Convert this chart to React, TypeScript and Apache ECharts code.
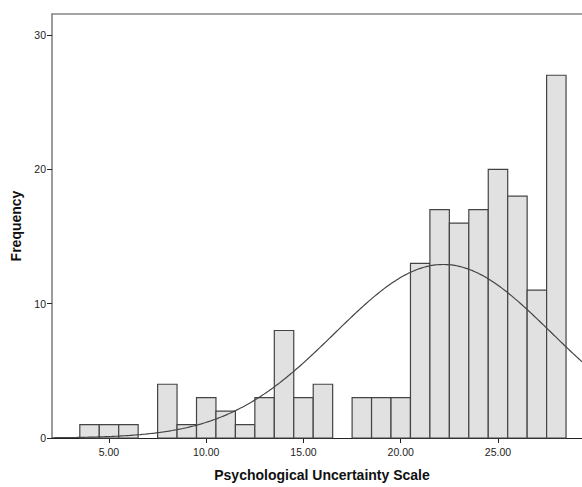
import React, { useEffect, useRef } from "react";
import * as echarts from "echarts";

// Histogram bins (centre of each 1-unit bin) and frequencies
const binCenters = [4, 5, 6, 8, 9, 10, 11, 12, 13, 14, 15, 16, 18, 19, 20, 21, 22, 23, 24, 25, 26, 27, 28];
const frequencies = [1, 1, 1, 4, 1, 3, 2, 1, 3, 8, 3, 4, 3, 3, 3, 13, 17, 16, 17, 20, 18, 11, 27];
const xTickValues = [5, 10, 15, 20, 25];
const yTickValues = [0, 10, 20, 30];

// Fitted normal curve parameters
const NORMAL_MEAN = 22.19;
const NORMAL_SD = 5.56;
const N_TOTAL = 180;
const BIN_WIDTH = 1;

const X_MIN = 2.07;
const X_MAX = 29.32;
const Y_MAX = 31.56;

const FONT = "Liberation Sans, Arial, sans-serif";

export default function App() {
  const ref = useRef<HTMLDivElement>(null);

  useEffect(() => {
    if (!ref.current) return;
    const chart = echarts.init(ref.current, null, { renderer: "svg" });

    const curve: number[][] = [];
    for (let i = 0; i <= 300; i++) {
      const x = X_MIN + ((X_MAX - X_MIN) * i) / 300;
      const z = (x - NORMAL_MEAN) / NORMAL_SD;
      const y = (N_TOTAL * BIN_WIDTH) / (NORMAL_SD * Math.sqrt(2 * Math.PI)) * Math.exp(-0.5 * z * z);
      curve.push([x, y]);
    }

    const barData = binCenters.map((c, i) => [c, frequencies[i]]);

    chart.setOption({
      animation: false,
      backgroundColor: "#ffffff",
      grid: {
        left: 52,
        top: 14,
        right: 0,
        bottom: 47.5,
        show: false,
      },
      xAxis: [
        {
          type: "value",
          min: X_MIN,
          max: X_MAX,
          name: "Psychological Uncertainty Scale",
          nameLocation: "middle",
          nameGap: 30,
          nameTextStyle: { fontFamily: FONT, fontWeight: "bold", fontSize: 14, color: "#111", padding: [0, 0, 0, 10] },
          splitLine: { show: false },
          axisLine: { lineStyle: { color: "#222", width: 1 } },
          axisTick: { show: true, length: 5, customValues: xTickValues, lineStyle: { color: "#222" } },
          axisLabel: {
            customValues: xTickValues,
            formatter: (v: number) => v.toFixed(2),
            margin: 8,
            fontFamily: FONT,
            fontSize: 10.5,
            color: "#222",
          },
        },
        {
          type: "value",
          position: "top",
          min: X_MIN,
          max: X_MAX,
          splitLine: { show: false },
          axisLine: { show: true, lineStyle: { color: "#868686", width: 1.5 } },
          axisTick: { show: false },
          axisLabel: { show: false },
        },
      ],
      yAxis: {
        type: "value",
        min: 0,
        max: Y_MAX,
        name: "Frequency",
        nameLocation: "middle",
        nameGap: 27,
        nameTextStyle: { fontFamily: FONT, fontWeight: "bold", fontSize: 14, color: "#111" },
        splitLine: { show: false },
        axisLine: { show: true, lineStyle: { color: "#7a7a7a", width: 1.5 } },
        axisTick: { show: true, length: 5, customValues: yTickValues, lineStyle: { color: "#222" } },
        axisLabel: {
          customValues: yTickValues,
          margin: 6,
          fontFamily: FONT,
          fontSize: 10.5,
          color: "#222",
        },
      },
      series: [
        {
          type: "custom",
          xAxisIndex: 0,
          data: barData,
          encode: { x: 0, y: 1 },
          renderItem: (params: any, api: any) => {
            const c = api.value(0);
            const v = api.value(1);
            const p0 = api.coord([c - BIN_WIDTH / 2, v]);
            const p1 = api.coord([c + BIN_WIDTH / 2, 0]);
            return {
              type: "rect",
              shape: { x: p0[0], y: p0[1], width: p1[0] - p0[0], height: p1[1] - p0[1] },
              style: { fill: "#e1e1e1", stroke: "#444444", lineWidth: 1.2 },
            };
          },
          z: 2,
        },
        {
          type: "line",
          xAxisIndex: 0,
          data: curve,
          showSymbol: false,
          symbol: "none",
          smooth: false,
          lineStyle: { color: "#444", width: 1.2 },
          z: 3,
        },
      ],
    });

    return () => chart.dispose();
  }, []);

  return (
    <div
      ref={ref}
      style={{ position: "fixed", left: 0, top: 0, width: 582, height: 487, background: "#fff" }}
    />
  );
}
